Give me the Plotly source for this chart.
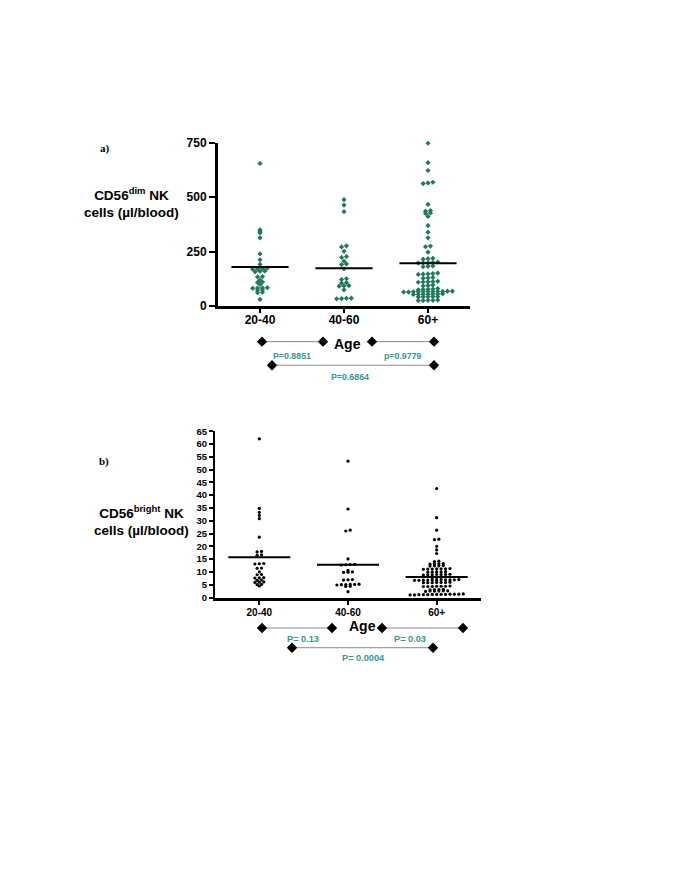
import plotly.graph_objects as go

W, H = 685, 886

categories = ["20-40", "40-60", "60+"]

# Panel a) CD56dim NK cells (µl/blood)
cd56dim_20_40 = [655, 351, 344, 337, 314, 240, 213, 192, 175, 173, 171, 170, 162, 160, 158,
                 136, 134, 120, 111, 109, 100, 85, 84, 83, 82, 75, 73, 64, 62, 31]
cd56dim_40_60 = [489, 464, 434, 277, 272, 252, 228, 224, 207, 194, 191, 172, 126, 122,
                 108, 106, 94, 93, 92, 75, 37, 36, 35, 34]
cd56dim_60plus = [748, 659, 623, 569, 566, 563, 467, 439, 436, 428, 426, 412, 370, 340,
                  314, 276, 273, 248, 220, 218, 216, 203, 201, 200, 199, 198, 185, 183,
                  181, 152, 150, 148, 147, 146, 132, 130, 128, 114, 113, 112, 111, 110,
                  97, 95, 93, 81, 79, 78, 77, 75, 69, 69, 68, 68, 67, 67, 67, 66, 66, 65,
                  65, 57, 56, 56, 55, 55, 54, 54, 44, 44, 43, 43, 42, 28, 27, 27, 26, 26]
cd56dim_means = [180, 174, 197]

# Panel b) CD56bright NK cells (µl/blood)
cd56bright_20_40 = [62.0, 34.8, 33.3, 32.1, 30.8, 23.6, 18.0, 17.8, 16.7, 16.5, 13.3, 13.2,
                    13.1, 11.5, 11.4, 10.0, 9.0, 8.9, 7.8, 7.7, 7.6, 6.8, 6.7, 6.1, 6.0,
                    5.9, 5.1, 5.0, 4.5]
cd56bright_40_60 = [53.3, 34.6, 26.3, 26.0, 15.1, 13.0, 12.9, 12.8, 12.7, 10.6, 10.0, 9.9,
                    9.8, 7.0, 6.9, 6.8, 5.2, 5.1, 5.1, 5.0, 5.0, 4.9, 4.4, 4.3, 2.3]
cd56bright_60plus = [42.6, 31.2, 26.3, 22.8, 22.6, 20.0, 18.6, 17.2, 14.2, 14.0,
                     13.3, 13.2, 13.2, 13.1, 12.5, 12.4, 12.4, 12.3,
                     11.3, 11.2, 11.2, 11.2, 11.1, 11.1, 11.0,
                     10.1, 10.0, 10.0, 9.9, 9.9,
                     9.1, 9.0, 9.0, 9.0, 8.9, 8.9, 8.8,
                     7.9, 7.8, 7.7,
                     7.0, 6.9, 6.9, 6.9, 6.9, 6.8, 6.8, 6.8, 6.8, 6.7, 6.7,
                     6.0, 5.9, 5.9, 5.9, 5.8, 5.8, 5.8,
                     4.5, 4.4, 4.4, 4.4, 4.3, 4.3, 4.3,
                     3.2, 3.1, 3.1, 3.0,
                     2.6, 2.6, 2.5, 2.5, 2.5, 2.4,
                     1.4, 1.3, 1.3, 1.3, 1.2, 1.2, 1.2, 1.2, 1.1, 1.1, 1.1, 1.0, 1.0]
cd56bright_means = [15.7, 12.8, 8.0]

y_ticks_a = [0, 250, 500, 750]
y_ticks_b = list(range(0, 70, 5))

p_labels_a = ["P=0.8851", "p=0.9779", "P=0.6864"]
p_labels_b = ["P= 0.13", "P= 0.03", "P= 0.0004"]

GREEN = "#1f7a5a"
TEAL = "#2f9a9a"
FONT = "Liberation Sans"


def fx(px):
    return px / W


def fy(py):
    return 1 - py / H


def swarm(values, thr, step):
    vals = sorted(values)
    rows = []
    for v in vals:
        if rows and v - rows[-1][0] <= thr:
            rows[-1].append(v)
        else:
            rows.append([v])
    xs, ys = [], []
    for r in rows:
        n = len(r)
        for k, v in enumerate(r):
            xs.append((k - (n - 1) / 2) * step)
            ys.append(v)
    return xs, ys


fig = go.Figure()

# panel a points
for i, vals in enumerate([cd56dim_20_40, cd56dim_40_60, cd56dim_60plus]):
    offs, ys = swarm(vals, 6, 0.058)
    fig.add_trace(go.Scatter(x=[i + o for o in offs], y=ys, mode="markers",
                             marker=dict(symbol="diamond", size=4, color=GREEN),
                             xaxis="x", yaxis="y", cliponaxis=False, showlegend=False,
                             hoverinfo="y"))
mx, my = [], []
for i, m in enumerate(cd56dim_means):
    mx += [i - 0.34, i + 0.34, None]
    my += [m, m, None]
fig.add_trace(go.Scatter(x=mx, y=my, mode="lines", line=dict(color="black", width=2),
                         xaxis="x", yaxis="y", showlegend=False, hoverinfo="skip"))

# panel b points
for i, vals in enumerate([cd56bright_20_40, cd56bright_40_60, cd56bright_60plus]):
    offs, ys = swarm(vals, 0.4, 0.05)
    fig.add_trace(go.Scatter(x=[i + o for o in offs], y=ys, mode="markers",
                             marker=dict(symbol="circle", size=3.2, color="black"),
                             xaxis="x2", yaxis="y2", cliponaxis=False, showlegend=False,
                             hoverinfo="y"))
mx, my = [], []
for i, m in enumerate(cd56bright_means):
    mx += [i - 0.35, i + 0.35, None]
    my += [m, m, None]
fig.add_trace(go.Scatter(x=mx, y=my, mode="lines", line=dict(color="black", width=2),
                         xaxis="x2", yaxis="y2", showlegend=False, hoverinfo="skip"))

# comparison brackets (page-pixel overlay)
brackets = [
    ((262, 340), (323, 340)), ((372, 340), (434, 340)), ((272, 364), (434, 364)),
    ((262, 631), (332, 631)), ((382, 631), (463, 631)), ((292, 651), (433, 651)),
]
for (x0, y0), (x1, y1) in brackets:
    fig.add_trace(go.Scatter(x=[x0, x1], y=[y0, y1], mode="lines+markers",
                             line=dict(color="#8a8a8a", width=1),
                             marker=dict(symbol="diamond", size=8, color="black"),
                             xaxis="x3", yaxis="y3", showlegend=False, hoverinfo="skip",
                             cliponaxis=False))

annotations = []


def text(x, y, t, size, color="black", family=FONT, weight="bold"):
    annotations.append(dict(x=x, y=y, xref="x3", yref="y3", text=t, showarrow=False,
                            xanchor="center", yanchor="middle",
                            font=dict(size=size, color=color, family=family, weight=weight)))


text(347, 342, "Age", 14)
text(292, 355, p_labels_a[0], 8.8, TEAL)
text(403, 355, p_labels_a[1], 8.8, TEAL)
text(350, 376, p_labels_a[2], 8.8, TEAL)
text(362, 629, "Age", 14)
text(303, 642, p_labels_b[0], 9.2, TEAL)
text(410, 642, p_labels_b[1], 9.2, TEAL)
text(363, 661, p_labels_b[2], 9.2, TEAL)
text(131, 199, "CD56<sup>dim</sup> NK<br>cells (µl/blood)", 13.5)
text(141, 522, "CD56<sup>bright</sup> NK<br>cells (µl/blood)", 13.5)
text(105, 144, "a)", 11, family="Liberation Serif")
text(104, 462, "b)", 11, family="Liberation Serif")

axis_common = dict(showgrid=False, zeroline=False, showline=True, linecolor="black",
                   ticks="outside", tickcolor="black", fixedrange=True)

fig.update_layout(
    width=W, height=H, autosize=False,
    margin=dict(l=0, r=0, t=0, b=0),
    paper_bgcolor="white", plot_bgcolor="rgba(0,0,0,0)",
    font=dict(family=FONT, color="black"),
    annotations=annotations,
    xaxis=dict(domain=[fx(218), fx(470)], range=[-0.5, 2.5], tickvals=[0, 1, 2],
               ticktext=categories, anchor="y", linewidth=3, ticklen=4, tickwidth=2,
               ticklabelstandoff=-4,
               tickfont=dict(size=12, family=FONT, weight="bold"), **axis_common),
    yaxis=dict(domain=[fy(304), fy(138)], range=[0, 750], tickvals=y_ticks_a,
               anchor="x", linewidth=3, ticklen=6, tickwidth=2,
               tickfont=dict(size=12, family=FONT, weight="bold"), **axis_common),
    xaxis2=dict(domain=[fx(215), fx(481)], range=[-0.5, 2.5], tickvals=[0, 1, 2],
                ticktext=categories, anchor="y2", linewidth=3, ticklen=4, tickwidth=2,
                ticklabelstandoff=-1,
                tickfont=dict(size=10, family=FONT, weight="bold"), **axis_common),
    yaxis2=dict(domain=[fy(600), fy(431)], range=[0, 65], tickvals=y_ticks_b,
                anchor="x2", linewidth=2, ticklen=4, tickwidth=1.5,
                tickfont=dict(size=9.5, family=FONT, weight="bold"), **axis_common),
    xaxis3=dict(domain=[0, 1], range=[0, W], visible=False, anchor="y3", fixedrange=True),
    yaxis3=dict(domain=[0, 1], range=[H, 0], visible=False, anchor="x3", fixedrange=True),
)

fig.write_html("out.html", config={"displayModeBar": False},
               post_script="document.body.style.margin='0';")
